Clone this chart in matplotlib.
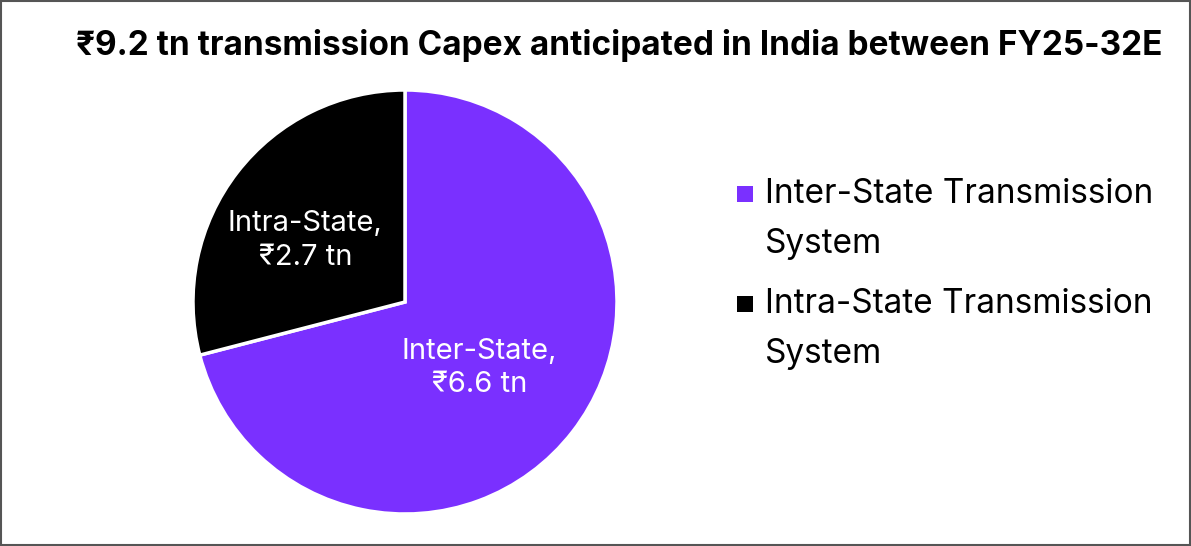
import matplotlib.pyplot as plt
from matplotlib.patches import Rectangle

plt.rcParams['font.family'] = ['Inter', 'Noto Sans', 'DejaVu Sans']

# data
slice_labels = ['Inter-State,\n₹6.6 tn', 'Intra-State,\n₹2.7 tn']
legend_labels = ['Inter-State Transmission\nSystem', 'Intra-State Transmission\nSystem']
values = [6.6, 2.7]
colors = ['#7A30FF', '#000000']
title = '₹9.2 tn transmission Capex anticipated in India between FY25-32E'

W, H = 1191, 546
fig = plt.figure(figsize=(W / 100, H / 100), dpi=100)

# pie: centre ~ (405, 302) px, radius ~ 212 px
cx, cy, r = 405, 302, 212
ax = fig.add_axes([(cx - r) / W, 1 - (cy + r) / H, 2 * r / W, 2 * r / H])
wedges, texts = ax.pie(values, colors=colors, startangle=90, counterclock=False,
                       labels=slice_labels, labeldistance=0.45,
                       wedgeprops=dict(edgecolor='white', linewidth=2.5),
                       textprops=dict(color='white', fontsize=21, ha='center', va='center',
                                      linespacing=1.3))
texts[0].set_position((0.35, -0.31))
texts[1].set_position((-0.47, 0.29))
ax.set_xlim(-1, 1)
ax.set_ylim(-1, 1)
ax.set_aspect('auto')

fig.text(619 / W, 1 - 45 / H, title, ha='center', va='center',
         fontsize=24, fontweight='bold')

# legend drawn by hand so the marker sits on the first line
leg_y = [186, 296]
for lab, col, y in zip(legend_labels, colors, leg_y):
    fig.patches.append(Rectangle((737 / W, 1 - (y + 16) / H), 16 / W, 16 / H,
                                 transform=fig.transFigure, facecolor=col,
                                 edgecolor='none'))
    fig.text(765 / W, 1 - (y - 8) / H, lab, ha='left', va='top',
             fontsize=24, linespacing=1.72)

# outer frame
fig.patches.append(Rectangle((0.001, 0.002), 0.998, 0.996, transform=fig.transFigure,
                             facecolor='none', edgecolor='#555555', linewidth=1.5))

fig.savefig('out.png', dpi=100)
